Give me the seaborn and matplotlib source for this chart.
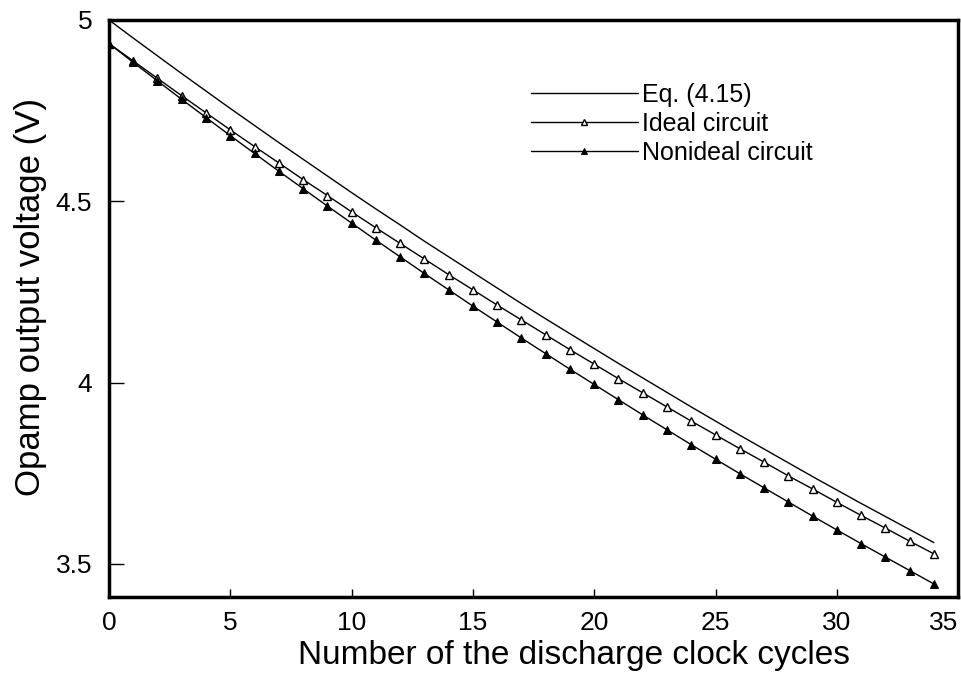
import numpy as np
import pandas as pd
import seaborn as sns
import matplotlib.pyplot as plt

# 방전 클럭 사이클 수 (0 ~ 34)
cycles = list(range(35))

# Eq. (4.15) 계산 곡선
eq_values = [5.000, 4.950, 4.901, 4.852, 4.804, 4.756, 4.709, 4.662, 4.616, 4.570,
             4.524, 4.479, 4.435, 4.390, 4.347, 4.304, 4.261, 4.218, 4.176, 4.135,
             4.094, 4.053, 4.013, 3.973, 3.933, 3.894, 3.855, 3.817, 3.779, 3.741,
             3.704, 3.667, 3.631, 3.595, 3.559]

# 이상적인 회로
ideal_values = [4.935, 4.887, 4.839, 4.791, 4.744, 4.697, 4.651, 4.606, 4.560, 4.516,
                4.471, 4.427, 4.384, 4.341, 4.298, 4.256, 4.214, 4.173, 4.132, 4.091,
                4.051, 4.011, 3.972, 3.933, 3.894, 3.856, 3.818, 3.781, 3.743, 3.707,
                3.670, 3.634, 3.599, 3.563, 3.528]

# 비이상적인 회로
nonideal_values = [4.935, 4.883, 4.832, 4.781, 4.731, 4.681, 4.632, 4.583, 4.535, 4.487,
                   4.440, 4.393, 4.347, 4.301, 4.256, 4.211, 4.167, 4.123, 4.080, 4.037,
                   3.995, 3.953, 3.911, 3.870, 3.829, 3.789, 3.749, 3.710, 3.671, 3.632,
                   3.594, 3.556, 3.519, 3.482, 3.445]

x_ticks = [0, 5, 10, 15, 20, 25, 30, 35]
y_ticks = [3.5, 4, 4.5, 5]
y_tick_labels = ['3.5', '4', '4.5', '5']

df = pd.DataFrame({'cycle': cycles, 'eq': eq_values,
                   'ideal': ideal_values, 'nonideal': nonideal_values})

sns.set_style('white')
plt.rcParams['font.family'] = ['Liberation Sans', 'DejaVu Sans']
plt.rcParams['text.color'] = 'black'
plt.rcParams['axes.labelcolor'] = 'black'
plt.rcParams['xtick.color'] = 'black'
plt.rcParams['ytick.color'] = 'black'

fig = plt.figure(figsize=(9.61, 6.77), dpi=100)
ax = fig.add_axes([0.1134, 0.1182, 0.8836, 0.8523])

sns.lineplot(data=df, x='cycle', y='eq', ax=ax, color='black', lw=1.0,
             label='Eq. (4.15)')
sns.lineplot(data=df, x='cycle', y='ideal', ax=ax, color='black', lw=1.0,
             marker='^', markersize=6, markerfacecolor='white',
             markeredgecolor='black', markeredgewidth=1.0, label='Ideal circuit')
sns.lineplot(data=df, x='cycle', y='nonideal', ax=ax, color='black', lw=1.0,
             marker='^', markersize=6, markerfacecolor='black',
             markeredgecolor='black', label='Nonideal circuit')

ax.set_xlim(0, 35)
ax.set_ylim(3.409, 5.0)
ax.set_xticks(x_ticks)
ax.set_yticks(y_ticks)
ax.set_yticklabels(y_tick_labels)

for spine in ax.spines.values():
    spine.set_linewidth(2.5)
    spine.set_color('black')

ax.tick_params(axis='x', bottom=True, direction='in', length=6, width=1,
               labelsize=19, pad=10)
ax.tick_params(axis='y', left=True, direction='in', length=11, width=1,
               labelsize=19, pad=12)

# 마지막 눈금 라벨(35)이 잘리지 않도록 오른쪽 정렬
ax.get_xticklabels()[-1].set_horizontalalignment('right')

ax.set_xlabel('Number of the discharge clock cycles', fontsize=24, labelpad=4, x=0.548)
ax.set_ylabel('Opamp output voltage (V)', fontsize=25, labelpad=6, y=0.52)

leg = ax.legend(loc='upper left', bbox_to_anchor=(0.47, 0.93), frameon=False,
                fontsize=18, handlelength=4.3, handletextpad=0.15,
                labelspacing=0.2, markerscale=0.8)

plt.savefig('out.png', dpi=100)
